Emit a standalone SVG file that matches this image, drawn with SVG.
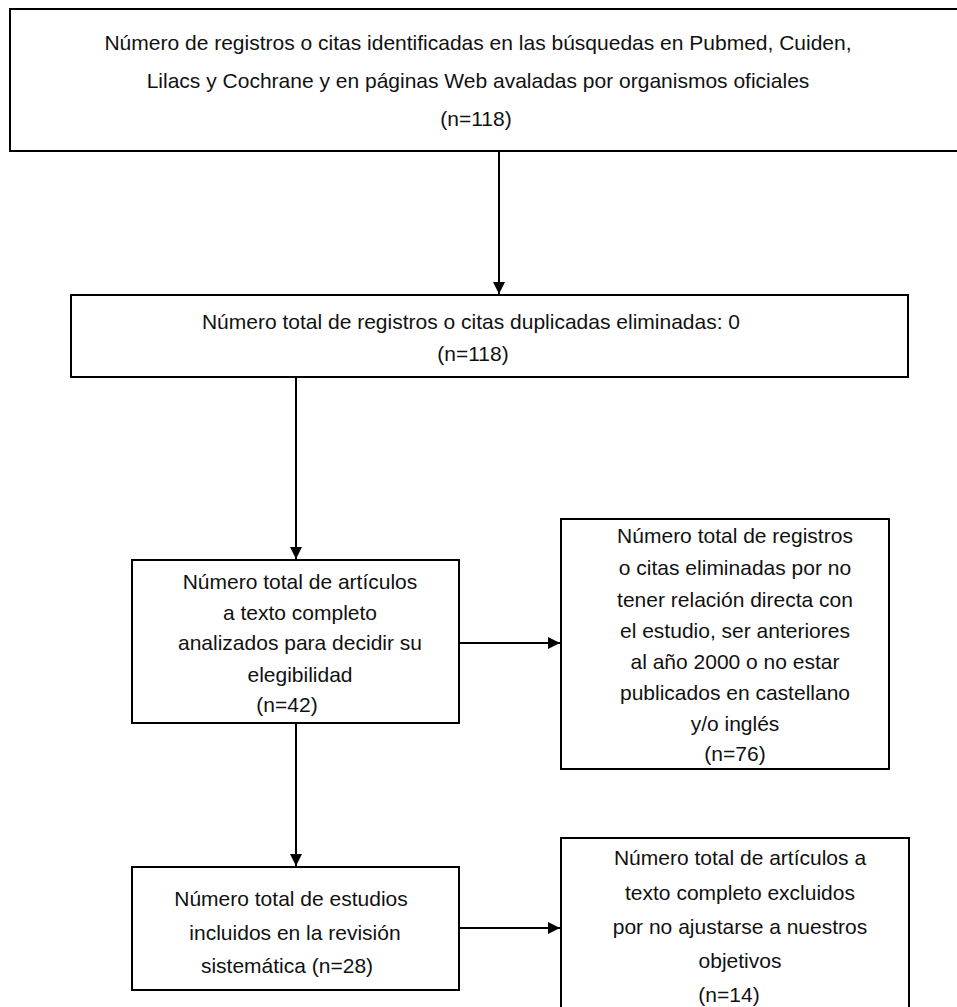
<svg xmlns="http://www.w3.org/2000/svg" width="957" height="1007" viewBox="0 0 957 1007">
<style>
.box{fill:#fff;stroke:#000;stroke-width:2}
.t{font-family:"Liberation Sans",Arial,Helvetica,sans-serif;font-size:21px;fill:#111;text-anchor:middle}
.c{stroke:#000;stroke-width:2;fill:none}
</style>
<defs>
<marker id="ah" viewBox="0 0 10 10" refX="10" refY="5" markerWidth="6" markerHeight="6" markerUnits="strokeWidth" orient="auto">
<path d="M0,0 L10,5 L0,10 Z" fill="#000"/>
</marker>
</defs>
<rect width="957" height="1007" fill="#fff"/>
<g id="connectors">
<line class="c" x1="499" y1="151" x2="499" y2="294" marker-end="url(#ah)"/>
<line class="c" x1="296" y1="377" x2="296" y2="559" marker-end="url(#ah)"/>
<line class="c" x1="459" y1="643" x2="560" y2="643" marker-end="url(#ah)"/>
<line class="c" x1="296" y1="723" x2="296" y2="866" marker-end="url(#ah)"/>
<line class="c" x1="459" y1="928" x2="560" y2="928" marker-end="url(#ah)"/>
</g>
<g id="n1">
<rect class="box" x="10" y="9" width="960" height="142"/>
<text class="t" x="478" y="50">Número de registros o citas identificadas en las búsquedas en Pubmed, Cuiden,</text>
<text class="t" x="478" y="88">Lilacs y Cochrane y en páginas Web avaladas por organismos oficiales</text>
<text class="t" x="476" y="126">(n=118)</text>
</g>
<g id="n2">
<rect class="box" x="71" y="295" width="837" height="82"/>
<text class="t" x="471" y="329">Número total de registros o citas duplicadas eliminadas: 0</text>
<text class="t" x="473" y="361">(n=118)</text>
</g>
<g id="n3">
<rect class="box" x="132" y="560" width="327" height="163"/>
<text class="t" x="300" y="589">Número total de artículos</text>
<text class="t" x="300" y="620">a texto completo</text>
<text class="t" x="300" y="650">analizados para decidir su</text>
<text class="t" x="300" y="682">elegibilidad</text>
<text class="t" x="287" y="712">(n=42)</text>
</g>
<g id="n4">
<rect class="box" x="561" y="519" width="328" height="250"/>
<text class="t" x="735" y="543">Número total de registros</text>
<text class="t" x="735" y="575">o citas eliminadas por no</text>
<text class="t" x="735" y="607">tener relación directa con</text>
<text class="t" x="735" y="638">el estudio, ser anteriores</text>
<text class="t" x="735" y="669">al año 2000 o no estar</text>
<text class="t" x="735" y="700">publicados en castellano</text>
<text class="t" x="735" y="731">y/o inglés</text>
<text class="t" x="735" y="761">(n=76)</text>
</g>
<g id="n5">
<rect class="box" x="132" y="867" width="327" height="123"/>
<text class="t" x="291" y="906">Número total de estudios</text>
<text class="t" x="295" y="940">incluidos en la revisión</text>
<text class="t" x="287" y="973">sistemática (n=28)</text>
</g>
<g id="n6">
<rect class="box" x="561" y="838" width="348" height="200"/>
<text class="t" x="740" y="865">Número total de artículos a</text>
<text class="t" x="740" y="900">texto completo excluidos</text>
<text class="t" x="740" y="934">por no ajustarse a nuestros</text>
<text class="t" x="740" y="968">objetivos</text>
<text class="t" x="729" y="1002">(n=14)</text>
</g>
</svg>
